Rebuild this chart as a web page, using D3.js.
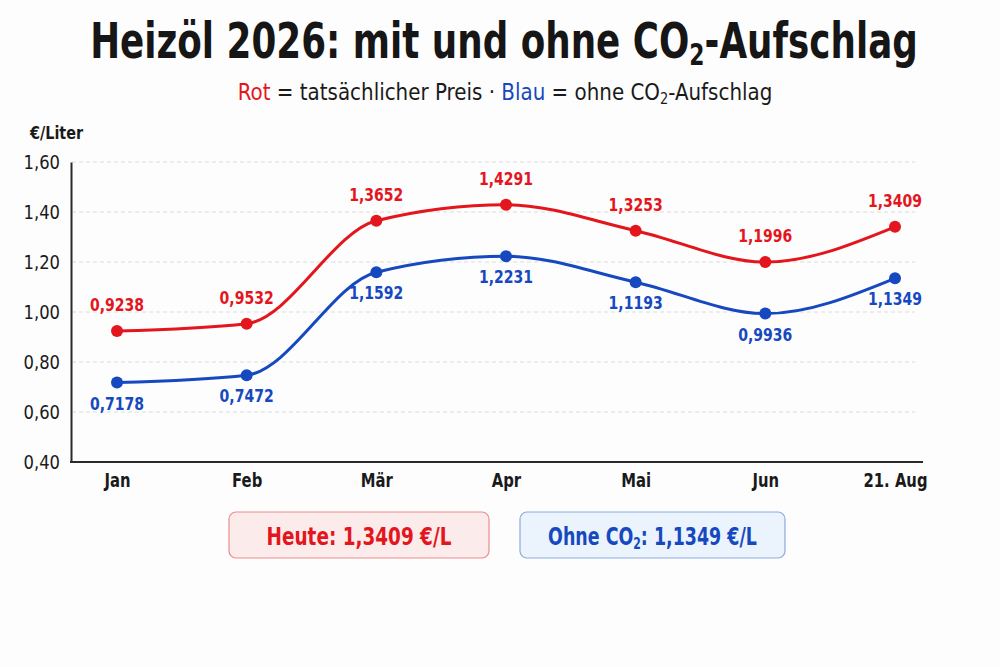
<!DOCTYPE html>
<html>
<head>
<meta charset="utf-8">
<script src="https://cdn.jsdelivr.net/npm/d3@7"></script>
<style>
  html, body { margin: 0; padding: 0; background: #fdfdfd; }
  svg { display: block; }
  text { font-family: "DejaVu Sans", sans-serif; }
</style>
</head>
<body>
<script>
const months = ["Jan", "Feb", "Mär", "Apr", "Mai", "Jun", "21. Aug"]
const withCO2 = [0.9238, 0.9532, 1.3652, 1.4291, 1.3253, 1.1996, 1.3409]
const withoutCO2 = [0.7178, 0.7472, 1.1592, 1.2231, 1.1193, 0.9936, 1.1349]
const yTicks = [0.4, 0.6, 0.8, 1.0, 1.2, 1.4, 1.6]

const width = 1000, height = 667
const red = "#e3161d", blue = "#1649bf"
const fmt4 = v => v.toFixed(4).replace(".", ",")
const fmt2 = v => v.toFixed(2).replace(".", ",")

// no condensed face installed, so squeeze the text horizontally around its x
function squeeze(sel, factor, target) {
    sel.each(function () {
        const f = target ? target / this.getComputedTextLength() : factor
        const cx = +d3.select(this).attr("x") || 0
        const prev = d3.select(this).attr("transform") || ""
        d3.select(this).attr("transform", `${prev} translate(${cx},0) scale(${f},1) translate(${-cx},0)`)
    })
}

const svg = d3.select("body").append("svg").attr("width", width).attr("height", height)

// title + subtitle
svg.append("text").attr("x", 504).attr("y", 58).attr("text-anchor", "middle")
    .attr("font-size", 49).attr("font-weight", 700).attr("fill", "#161616")
    .call(t => {
        t.append("tspan").text("Heizöl 2026: mit und ohne CO")
        t.append("tspan").text("2").attr("font-size", 30).attr("dy", 7)
        t.append("tspan").text("-Aufschlag").attr("dy", -7)
    })
    .call(squeeze, 0, 828)

svg.append("text").attr("x", 505).attr("y", 100).attr("text-anchor", "middle")
    .attr("font-size", 23).attr("fill", "#1a1a1a")
    .call(t => {
        t.append("tspan").text("Rot").attr("fill", red)
        t.append("tspan").text(" = tatsächlicher Preis · ")
        t.append("tspan").text("Blau").attr("fill", blue)
        t.append("tspan").text(" = ohne CO")
        t.append("tspan").text("2").attr("font-size", 15).attr("dy", 4)
        t.append("tspan").text("-Aufschlag").attr("dy", -4)
    })
    .call(squeeze, 0, 535)

svg.append("text").attr("x", 30).attr("y", 139).attr("font-size", 18)
    .attr("font-weight", 700).attr("fill", "#1a1a1a").text("€/Liter")
    .call(squeeze, 0.8)

const x = d3.scalePoint().domain(months).range([117, 895])
const y = d3.scaleLinear().domain([0.4, 1.6]).range([462, 162])

// grid
svg.append("g").selectAll("line").data(yTicks.slice(1)).join("line")
    .attr("x1", 72).attr("x2", 915)
    .attr("y1", d => y(d)).attr("y2", d => y(d))
    .attr("stroke", "#dcdcdc").attr("stroke-width", 1).attr("stroke-dasharray", "4,3")

const axisFont = '"DejaVu Sans", sans-serif'

// y axis
const yAxis = svg.append("g").attr("transform", "translate(71,0)")
    .call(d3.axisLeft(y).tickValues(yTicks).tickFormat(fmt2).tickSize(0).tickPadding(11))
yAxis.select(".domain").attr("stroke", "#2a2a2a").attr("stroke-width", 2)
yAxis.selectAll("text").attr("font-size", 20).attr("fill", "#1a1a1a")
    .style("font-family", axisFont).call(squeeze, 0.82)

// x axis
const xAxis = svg.append("g").attr("transform", "translate(0,462)")
    .call(d3.axisBottom(x).tickSize(0).tickPadding(12))
xAxis.select(".domain").attr("d", "M70,0H923").attr("stroke", "#2a2a2a").attr("stroke-width", 2)
xAxis.selectAll("text").attr("font-size", 19).attr("font-weight", 700).attr("fill", "#1a1a1a")
    .style("font-family", axisFont).call(squeeze, 0.78)

const line = d3.line().x((d, i) => x(months[i])).y(d => y(d)).curve(d3.curveMonotoneX)

function series(values, color, above) {
    const g = svg.append("g")
    g.append("path").datum(values).attr("d", line)
        .attr("fill", "none").attr("stroke", color).attr("stroke-width", 3)
    g.selectAll("circle").data(values).join("circle")
        .attr("cx", (d, i) => x(months[i])).attr("cy", d => y(d)).attr("r", 6)
        .attr("fill", color)
    g.selectAll("text").data(values).join("text")
        .attr("x", (d, i) => x(months[i])).attr("y", d => y(d) + (above ? -20 : 27))
        .attr("text-anchor", "middle").attr("font-size", 18)
        .attr("font-weight", 700).attr("fill", color)
        .text(fmt4)
        .call(squeeze, 0.78)
}
series(withCO2, red, true)
series(withoutCO2, blue, false)

// summary boxes
const last = months.length - 1
const boxes = [
    { x: 229, w: 260, tw: 185, fill: "#fcebeb", stroke: "#eb8c8f", color: red, parts: [["Heute: " + fmt4(withCO2[last]) + " €/L", 0]] },
    { x: 520, w: 265, tw: 209, fill: "#ebf3fc", stroke: "#8eaadf", color: blue, parts: [["Ohne CO", 0], ["2", 1], [": " + fmt4(withoutCO2[last]) + " €/L", 2]] }
]
boxes.forEach(b => {
    svg.append("rect").attr("x", b.x).attr("y", 512).attr("width", b.w).attr("height", 46)
        .attr("rx", 7).attr("fill", b.fill).attr("stroke", b.stroke).attr("stroke-width", 1.2)
    const t = svg.append("text").attr("x", b.x + b.w / 2).attr("y", 545).attr("text-anchor", "middle")
        .attr("font-size", 24).attr("font-weight", 700).attr("fill", b.color)
    b.parts.forEach(([s, k]) => {
        const ts = t.append("tspan").text(s)
        if (k === 1) ts.attr("font-size", 15).attr("dy", 4)
        if (k === 2) ts.attr("dy", -4)
    })
    t.call(squeeze, 0, b.tw)
})
</script>
</body>
</html>
